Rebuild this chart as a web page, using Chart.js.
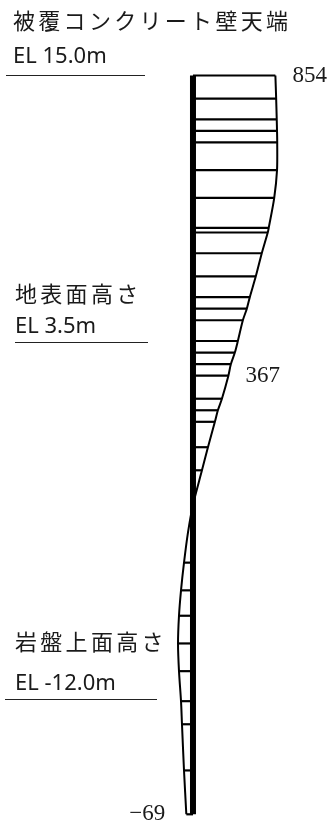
<!DOCTYPE html>
<html>
<head>
<meta charset="utf-8">
<script src="https://cdn.jsdelivr.net/npm/chart.js@4"></script>
<style>
    html, body { margin: 0; padding: 0; background: #fff; }
    #wall-chart { display: block; }
</style>
</head>
<body>
<canvas id="wall-chart" width="330" height="830"></canvas>
<script>
// hatch levels (EL, m) and the pressure value drawn at each
var hatchElev = [15.0, 14.0, 13.1, 12.6, 12.1, 10.9, 9.7, 8.4, 8.2, 7.3, 6.3, 5.4, 4.9, 4.4, 3.5, 3.0, 2.5, 2.0, 1.0, 0.5, 0.0, -1.1, -2.1,
    -6.1, -7.3, -8.4, -9.6, -10.8, -12.1, -13.1, -15.1, -17.0];
var hatchValue = [854, 862, 868, 871, 873, 871, 842, 785, 775, 713, 651, 589, 558, 517, 465, 434, 393, 367, 300, 258, 227, 155, 93,
    -93, -124, -145, -155, -145, -124, -114, -93, -69];
// extra curve points with no hatch line
var extraElev = [-3.6, -4.8];
var extraValue = [0, -52];
// values written next to the curve
var labelElev = [15.0, 2.0, -17.0];
var labelValue = [854, 367, -69];
// wall top / bottom
var wallElev = [15.0, -17.0];
// level notes on the left
var levelNames = ['被覆コンクリート壁天端', '地表面高さ', '岩盤上面高さ'];
var levelTexts = ['EL 15.0m', 'EL 3.5m', 'EL -12.0m'];

(function () {
    'use strict';

    /* ---- curve points, sorted top to bottom ---- */
    var curve = [];
    hatchElev.forEach(function (e, i) { curve.push({ x: hatchValue[i], y: e }); });
    extraElev.forEach(function (e, i) { curve.push({ x: extraValue[i], y: e }); });
    curve.sort(function (a, b) { return b.y - a.y; });

    var datasets = [];

    // hatch lines from the wall to the curve
    hatchElev.forEach(function (e, i) {
        datasets.push({
            data: [{ x: 0, y: e }, { x: hatchValue[i], y: e }],
            showLine: true, borderColor: '#000', borderWidth: 2.2, pointRadius: 0, tension: 0
        });
    });

    datasets.push({
        data: curve,
        showLine: true, borderColor: '#000', borderWidth: 2, pointRadius: 0, tension: 0.3
    });

    // the wall itself
    datasets.push({
        data: [{ x: 0, y: wallElev[0] }, { x: 0, y: wallElev[1] }],
        showLine: true, borderColor: '#000', borderWidth: 6, pointRadius: 0, borderCapStyle: 'butt'
    });

    /* ---- texts ---- */
    var textPlugin = {
        id: 'wallTexts',
        afterDatasetsDraw: function (chart) {
            var ctx = chart.ctx;
            var xs = chart.scales.x;
            var ys = chart.scales.y;
            ctx.save();
            ctx.fillStyle = '#1a1a1a';
            ctx.textBaseline = 'middle';

            // value labels, serif, beside the curve end
            ctx.font = '23px "Liberation Serif", serif';
            labelElev.forEach(function (e, i) {
                var v = labelValue[i];
                var px = xs.getPixelForValue(v);
                var py = ys.getPixelForValue(e);
                var txt = v < 0 ? '\u2212' + Math.abs(v) : String(v);
                if (v < 0) {
                    ctx.textAlign = 'right';
                    ctx.fillText(txt, px - 21, py);
                } else {
                    ctx.textAlign = 'left';
                    ctx.fillText(txt, px + 17, py);
                }
            });

            // level notes
            var notes = [
                { name: [13, 21], el: [13, 57], line: [6, 145, 75] },
                { name: [15, 294], el: [15, 327], line: [15, 148, 342] },
                { name: [15, 642], el: [15, 684], line: [5, 157, 699] }
            ];
            ctx.textAlign = 'left';
            notes.forEach(function (n, i) {
                ctx.font = '22px "Noto Sans CJK JP", sans-serif';
                ctx.letterSpacing = '3.3px';
                ctx.fillText(levelNames[i], n.name[0], n.name[1]);
                ctx.letterSpacing = '0px';
                ctx.font = '22px "Noto Sans", sans-serif';
                ctx.fillText(levelTexts[i], n.el[0], n.el[1]);
                ctx.strokeStyle = '#222';
                ctx.lineWidth = 1;
                ctx.beginPath();
                ctx.moveTo(n.line[0], n.line[2] + 0.5);
                ctx.lineTo(n.line[1], n.line[2] + 0.5);
                ctx.stroke();
            });
            ctx.restore();
        }
    };

    new Chart(document.getElementById('wall-chart'), {
        type: 'scatter',
        data: { datasets: datasets },
        options: {
            responsive: false,
            animation: false,
            layout: { padding: 0 },
            plugins: { legend: { display: false }, tooltip: { enabled: false } },
            scales: {
                x: { type: 'linear', min: -2000, max: 1420, display: false },
                y: { type: 'linear', min: -17.68, max: 18.27, display: false }
            }
        },
        plugins: [textPlugin]
    });
})();
</script>
</body>
</html>
